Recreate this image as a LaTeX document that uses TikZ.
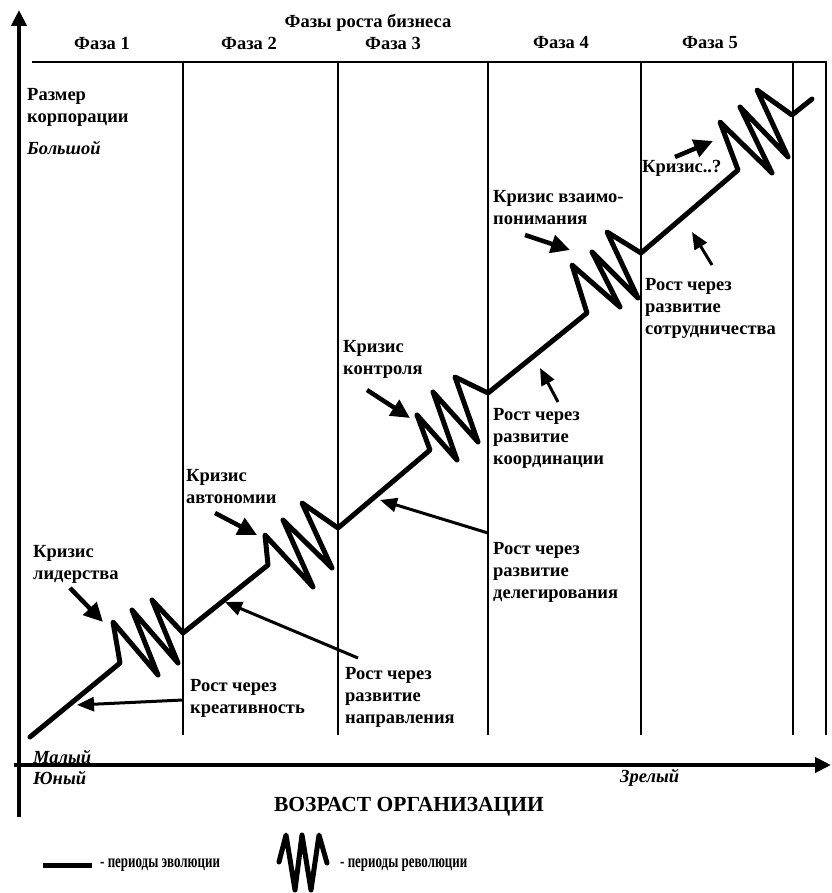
\documentclass[tikz,border=0pt]{standalone}
\usepackage{fontspec}
\setmainfont{Liberation Serif}
\usetikzlibrary{arrows.meta}
\usetikzlibrary{positioning}

\newcommand{\lblfont}{\fontsize{18.5}{22}\selectfont\bfseries}

\begin{document}
\begin{tikzpicture}[x=1pt,y=-1pt,
    lbl/.style={font=\lblfont,align=left,inner sep=0pt,anchor=west},
    ital/.style={lbl,font=\lblfont\itshape},
    phase/.style={line width=2.2pt},
    axis/.style={line width=4pt,-{Triangle[length=16pt,width=15pt]}},
    evo/.style={line width=5pt,line cap=round,line join=round},
    crisarrow/.style={line width=4.5pt,-{Triangle[length=19pt,width=18pt]}},
    growarrow/.style={line width=3pt,-{Triangle[length=17pt,width=14pt]}}]
  \useasboundingbox (0,0) rectangle (831,893);

  % axes
  \draw[axis] (19,817) -- (19,10);
  \draw[axis] (14,765) -- (831,765);

  % phase grid
  \draw[phase] (32,62) -- (827,62);
  \foreach \x in {183,338,488,641,793,826} {
      \draw[phase] (\x,62) -- (\x,735);
    }
  \node[font=\lblfont] (title) at (368,23) {Фазы роста бизнеса};
  \foreach \x/\n in {102/1,249/2,393/3,561/4,710/5} {
      \node[font=\lblfont] (ph\n) at (\x,43) {Фаза \n};
    }

  % axis labels
  \node[lbl] (size) at (27,107) {Размер\\корпорации};
  \node[ital] (big) at (27,148) {Большой};
  \node[ital] (small) at (33,757) {Малый};
  \node[ital] (young) at (33,778) {Юный};
  \node[ital] (mature) at (620,778) {Зрелый};
  \node[font=\fontsize{21.5}{25}\selectfont\bfseries] (age) at (409,807) {ВОЗРАСТ ОРГАНИЗАЦИИ};

  % growth curve: evolution lines and revolution zigzags
  \draw[evo] (30,737) -- (120,663)
  -- (113,622) -- (158,675) -- (132,610) -- (178,663) -- (152,600) -- (183,633)
  -- (268,565)
  -- (265,535) -- (313,587) -- (283,520) -- (332,568) -- (302,503) -- (338,528)
  -- (430,450)
  -- (417,415) -- (457,460) -- (433,392) -- (478,442) -- (455,377) -- (488,393)
  -- (587,313)
  -- (572,265) -- (620,307) -- (592,252) -- (638,298) -- (607,232) -- (641,253)
  -- (738,170)
  -- (720,122) -- (772,173) -- (740,107) -- (788,157) -- (757,90) -- (792,115)
  -- (812,99);

  % crisis labels
  \node[lbl] (kr1) at (33,564) {Кризис\\лидерства};
  \node[lbl] (kr2) at (186,487) {Кризис\\автономии};
  \node[lbl] (kr3) at (343,359) {Кризис\\контроля};
  \node[lbl] (kr4) at (493,208) {Кризис взаимо-\\понимания};
  \node[lbl] (kr5) at (642,168) {Кризис..?};

  \coordinate (kr1a) at (70,588);  \coordinate (kr1b) at (103,622);
  \coordinate (kr2a) at (215,513); \coordinate (kr2b) at (257,535);
  \coordinate (kr3a) at (367,390); \coordinate (kr3b) at (410,418);
  \coordinate (kr4a) at (525,235); \coordinate (kr4b) at (570,250);
  \coordinate (kr5a) at (675,157); \coordinate (kr5b) at (713,141);
  \foreach \i in {1,...,5} {
      \draw[crisarrow] (kr\i a) -- (kr\i b);
    }

  % growth labels
  \node[lbl] (gr1) at (190,698) {Рост через\\креативность};
  \node[lbl] (gr2) at (345,697) {Рост через\\развитие\\направления};
  \node[lbl] (gr3) at (493,572) {Рост через\\развитие\\делегирования};
  \node[lbl] (gr4) at (493,438) {Рост через\\развитие\\координации};
  \node[lbl] (gr5) at (645,308) {Рост через\\развитие\\сотрудничества};

  \coordinate (gr1a) at (183,700); \coordinate (gr1b) at (77,705);
  \coordinate (gr2a) at (358,658); \coordinate (gr2b) at (225,602);
  \coordinate (gr3a) at (488,533); \coordinate (gr3b) at (380,500);
  \coordinate (gr4a) at (558,402); \coordinate (gr4b) at (540,368);
  \coordinate (gr5a) at (712,265); \coordinate (gr5b) at (692,232);
  \foreach \i in {1,...,5} {
      \draw[growarrow] (gr\i a) -- (gr\i b);
    }

  % legend
  \draw[line width=5pt] (43,865) -- (92,865);
  \node[lbl] (legevo) at (100,865) {\scalebox{0.7}[1]{- периоды эволюции}};
  \draw[evo] (279,862) -- (286,835) -- (295,890) -- (302,835) -- (311,890)
  -- (319,835) -- (327,863);
  \node[lbl] (legrev) at (340,865) {\scalebox{0.7}[1]{- периоды революции}};
\end{tikzpicture}
\end{document}
